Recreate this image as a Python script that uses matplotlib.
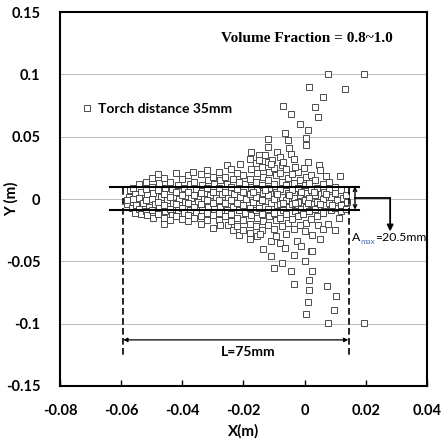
import matplotlib
matplotlib.use("Agg")
import matplotlib.pyplot as plt
from matplotlib.ticker import FuncFormatter

# particle positions, in mm (x, y)
band_pts = [
    (-58, -4), (-57.5, 2), (-57, 7), (-58, -1), (-56.5, -7),
    (-56, 9), (-55.5, 4), (-56, -2), (-55, -5), (-55.5, -11), (-56, 0),
    (-54, 12), (-53.5, 6), (-54, 1), (-53, -3), (-54, -8), (-53.5, -12),
    (-52, 14), (-52, 8), (-51.5, 3), (-52, -1), (-51, -6), (-52, -10), (-51.5, -13),
    (-50, 10), (-49.5, 5), (-50, 0), (-49, -4), (-50, -9), (-49.5, -15), (-50, 17),
    (-48, 20), (-47.5, 13), (-48, 7), (-47, 2), (-48, -2), (-47.5, -7), (-48, -12),
    (-46, 17), (-45.5, 9), (-46, 4), (-45, -1), (-46, -5), (-45.5, -10), (-46, -15), (-46, -20),
    (-44, 14), (-43.5, 8), (-44, 2), (-43, -3), (-44, -8), (-43.5, -13), (-44, -17),
    (-42, 21), (-41.5, 11), (-42, 6), (-41, 0), (-42, -4), (-41.5, -9), (-42, -14),
    (-40, 16), (-39.5, 9), (-40, 3), (-39, -2), (-40, -7), (-39.5, -11), (-40, -16),
    (-38, 19), (-37.5, 12), (-38, 6), (-37, 1), (-38, -3), (-37.5, -9), (-38, -13), (-38, -18),
    (-36.5, 22), (-36, 14), (-35.5, 8), (-36, 3), (-35, -2), (-36, -6), (-35.5, -11), (-36, -15),
    (-34, 20), (-33.5, 11), (-34, 5), (-33, 0), (-34, -4), (-33.5, -9), (-34, -14), (-34, -20),
    (-32, 23), (-31.5, 15), (-32, 9), (-31, 3), (-32, -1), (-31.5, -6), (-32, -11), (-32, -17),
    (-30, 18), (-29.5, 12), (-30, 6), (-29, 1), (-30, -3), (-29.5, -8), (-30, -13), (-30, -23),
    (-28, 22), (-27.5, 15), (-28, 9), (-27, 4), (-28, -1), (-27.5, -6), (-28, -11), (-28, -17), (-27.5, -21),
    (-25.5, 27), (-26, 18), (-25.5, 12), (-26, 6), (-25, 1), (-26, -3), (-25.5, -9), (-26, -14), (-25, -21),
    (-24, 24), (-23.5, 16), (-24, 10), (-23, 4), (-24, -1), (-23.5, -6), (-24, -12), (-24, -18), (-23.5, -25),
    (-22, 21), (-21.5, 14), (-22, 8), (-21, 2), (-22, -3), (-21.5, -9), (-22, -15), (-22, -22), (-21.5, -29),
    (-21, 28), (-20, 19), (-19.5, 12), (-20, 6), (-19, 0), (-20, -5), (-19.5, -11), (-20, -17), (-20, -25),
    (-18, 16), (-17.5, 10), (-18, 4), (-17, -2), (-18, -7), (-17.5, -13), (-18, -20),
    (-16, 29), (-15.5, 21), (-16, 14), (-15.5, 8), (-16, 2), (-15, -4), (-16, -9), (-15.5, -15), (-16, -22),
    (-14, 26), (-13.5, 18), (-14, 11), (-13.5, 5), (-14, -1), (-13, -6), (-14, -12), (-13.5, -18), (-14, -25),
    (-11.5, 22), (-12, 15), (-11.5, 9), (-12, 3), (-11, -3), (-12, -8), (-11.5, -14), (-12, -21),
    (-10, 25), (-9.5, 19), (-10, 12), (-9.5, 6), (-10, 0), (-9, -5), (-10, -11), (-9.5, -17), (-10, -24),
    (-7.5, 27), (-8, 21), (-7.5, 14), (-8, 8), (-7.5, 2), (-8, -4), (-7, -9), (-8, -15), (-7.5, -22),
    (-6, 24), (-5.5, 17), (-6, 11), (-5.5, 5), (-6, -1), (-5, -6), (-6, -12), (-5.5, -19),
    (-4, 20), (-3.5, 13), (-4, 7), (-3.5, 1), (-4, -4), (-3, -10), (-4, -16), (-3.5, -24),
    (-2, 22), (-1.5, 15), (-2, 9), (-1.5, 3), (-2, -2), (-1, -8), (-2, -14), (-1.5, -21),
    (0.5, 18), (0, 11), (0.5, 5), (0, -1), (0.5, -6), (-0.5, -12), (0.5, -19), (0, -26),
    (2, 19), (1.5, 13), (2, 7), (1.5, 1), (2, -4), (1.5, -10), (2, -16),
    (3.5, 15), (4, 9), (3.5, 3), (4, -2), (3.5, -8), (4, -14), (4.5, -21),
    (7.1, 18.5), (6, 12), (6.5, 6), (6, 0), (6.5, -5), (6, -11), (6, -23.8),
    (8, 14), (8, 8), (8.5, 2), (8, -3), (8.5, -9), (7.8, -20),
    (10, 10), (10, 5), (10.5, -1), (10, -7), (10, -24.6),
    (11.7, 18.5), (12, 7), (12.5, 1), (12, -5), (12, -10), (11.4, -15),
    (13.5, 3), (13.8, -2), (13.5, -8),
    (-9, 4), (-5, 3), (-1, 6), (3, 6), (7, 4),
    (-7, -3), (-3, -3), (1, -3), (5, -4), (9, -5),
    (-13, 7), (-17, 6), (-15, -7),
]

upper_pts = [
    (-17.5, 38), (-18, 32), (-17.5, 24), (-15, 35), (-15, 31), (-12, 48), (-12, 42),
    (-12, 30), (-12.9, 35), (-10.5, 31), (-9, 38), (-8, 34), (-11, 28), (-7, 30),
    (-7, 75), (-6.5, 53), (-5.5, 47), (-4.5, 68), (-5, 41), (-4.5, 36), (-3.5, 32),
    (-3, 26), (-1.5, 60), (1, 55), (0.4, 49), (0.4, 43), (-0.3, 25), (1, 30),
    (1.3, 90), (3.3, 74), (4.4, 66), (4.8, 27), (5, 23.5), (5.9, 82), (7.6, 100),
    (13.1, 88), (19.3, 100),
]

lower_pts = [
    (-18, -27), (-18, -32), (-15.5, -30), (-14.5, -28), (-13.5, -40), (-11, -34),
    (-11, -46), (-10, -55), (-9.5, -30), (-8, -35), (-7.5, -51), (-6, -28),
    (-6.5, -39), (-3.5, -45), (-4.5, -58), (-3.5, -68), (-2.5, -34), (-1, -38),
    (0, -50), (2, -42), (2.4, -29), (2.4, -58), (1.6, -65), (1.3, -73), (1, -82.6),
    (0.5, -92), (5.1, -32), (2.5, -42), (7.3, -70), (7.6, -99.5), (9.5, -89),
    (10.2, -78), (19.3, -99.5),
]

x_ticks = [-0.08, -0.06, -0.04, -0.02, 0, 0.02, 0.04]
y_ticks = [-0.15, -0.1, -0.05, 0, 0.05, 0.1, 0.15]

all_pts = band_pts + upper_pts + lower_pts
xs = [p[0] / 1000 for p in all_pts]
ys = [p[1] / 1000 for p in all_pts]

plt.rcParams['font.family'] = ['Lato', 'DejaVu Sans']
fig = plt.figure(figsize=(4.42, 4.42), dpi=100)
ax = fig.add_axes([0.1357, 0.1267, 0.830, 0.846])

# grid first so the markers sit on top
for yt in y_ticks[1:-1]:
    ax.axhline(yt, color='#b0b0b0', lw=0.6, zorder=0)

ax.plot(xs, ys, linestyle='none', marker='s', markersize=3.9,
        markerfacecolor='white', markeredgecolor='#404040', markeredgewidth=0.65,
        label='Torch distance 35mm', zorder=2)

# band of maximum amplitude
ax.plot([-0.0635, 0.0179], [0.0100, 0.0100], color='black', lw=1.5, zorder=3)
ax.plot([-0.0635, 0.0179], [-0.0085, -0.0085], color='black', lw=1.5, zorder=3)
ax.annotate('', xy=(0.0165, 0.0100), xytext=(0.0165, -0.0085),
            arrowprops=dict(arrowstyle='<->', color='black', lw=1.0,
                            shrinkA=0, shrinkB=0, mutation_scale=6), zorder=4)
ax.plot([0.0165, 0.028], [0.0008, 0.0008], color='black', lw=1.3, zorder=3)
ax.annotate('', xy=(0.028, -0.026), xytext=(0.028, 0.0008),
            arrowprops=dict(arrowstyle='-|>', color='black', lw=1.3,
                            shrinkA=0, shrinkB=0, mutation_scale=9), zorder=4)

# A_max label, subscript drawn in blue like the source
t_a = ax.text(0.0155, -0.0335, 'A', fontsize=8.8, ha='left', va='baseline')
t_m = ax.annotate('max', xy=(1, 0.1), xycoords=t_a, fontsize=5.8,
                  color='#4a6fb5', ha='left', va='center')
ax.annotate('=20.5mm', xy=(1, 0), xycoords=(t_m, t_a), fontsize=8.8,
            ha='left', va='bottom')

# penetration length
for xv in [-0.0595, 0.0145]:
    ax.plot([xv, xv], [0.009, -0.125], color='black', lw=1.2,
            linestyle=(0, (4, 2)), zorder=3)
ax.annotate('', xy=(-0.0593, -0.113), xytext=(0.0143, -0.113),
            arrowprops=dict(arrowstyle='<|-|>', color='black', lw=0.9,
                            shrinkA=0, shrinkB=0, mutation_scale=6))
ax.text(-0.0185, -0.123, 'L=75mm', fontsize=10, fontweight='bold',
        ha='center', va='center')

ax.text(0.0007, 0.129, 'Volume Fraction = 0.8~1.0', fontsize=11,
        fontweight='bold', family=['Liberation Serif', 'DejaVu Serif'],
        ha='center', va='center')

ax.legend(loc='upper left', bbox_to_anchor=(0.025, 0.79), frameon=False,
          handlelength=0.8, handletextpad=0.4,
          prop={'weight': 'bold', 'size': 10})

ax.set_xlim(-0.08, 0.04)
ax.set_ylim(-0.15, 0.15)
ax.set_xticks(x_ticks)
ax.set_yticks(y_ticks)
fmt = FuncFormatter(lambda v, pos: '{:g}'.format(round(v, 3)))
ax.xaxis.set_major_formatter(fmt)
ax.yaxis.set_major_formatter(fmt)
ax.tick_params(axis='x', direction='in', length=4, width=1, pad=13, labelsize=10.5)
ax.tick_params(axis='y', length=0, pad=14, labelsize=10.5)
for lab in ax.get_xticklabels() + ax.get_yticklabels():
    lab.set_fontweight('bold')
for sp in ax.spines.values():
    sp.set_linewidth(1.5)

ax.set_xlabel('X(m)', fontsize=11, fontweight='bold')
ax.set_ylabel('Y (m)', fontsize=11, fontweight='bold')
ax.xaxis.set_label_coords(0.5, -0.103)
ax.yaxis.set_label_coords(-0.112, 0.5)

fig.savefig('out.png', dpi=100)
